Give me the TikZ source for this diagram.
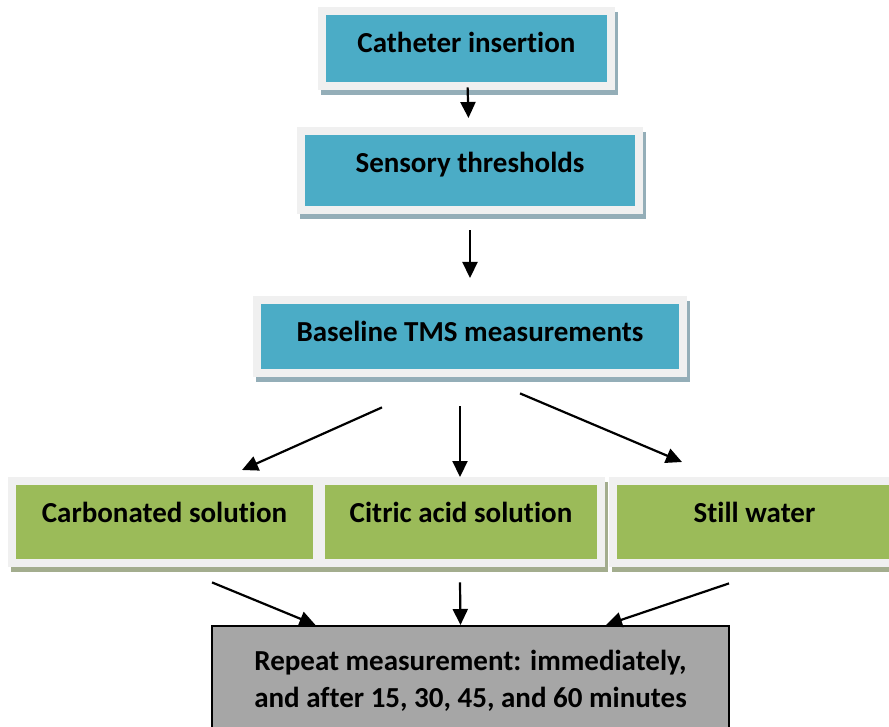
\documentclass[tikz,border=0pt]{standalone}
\usepackage{fontspec}
\setmainfont[Ligatures=CommonOff]{Carlito}
\usetikzlibrary{arrows.meta,shadows}

\definecolor{stepblue}{HTML}{4BACC6}
\definecolor{stepgreen}{HTML}{9BBB59}
\definecolor{framegray}{HTML}{F0F0F0}
\definecolor{shadowblue}{HTML}{94AEB8}
\definecolor{shadowgreen}{HTML}{A3AD8E}
\definecolor{resultgray}{HTML}{A6A6A6}

\tikzset{
    stage/.style={fill=framegray, inner sep=0pt, anchor=north, text height=45pt,
        font=\bfseries\fontsize{29}{37}\selectfont,
        path picture={\fill[#1] ([shift={(8pt,-8pt)}]path picture bounding box.north west)
            rectangle ([shift={(-8pt,8pt)}]path picture bounding box.south east);}},
    boxshadow/.style={drop shadow={shadow xshift=3pt, shadow yshift=-5pt, fill=#1, opacity=1}},
    arr/.style={-{Triangle[length=16pt,width=15pt]}, line width=2.2pt}
}

\begin{document}
\begin{tikzpicture}[x=1pt,y=-1pt]
    \useasboundingbox (0,0) rectangle (889,727);
    \clip (0,0) rectangle (889,727);

    \node[stage=stepblue, boxshadow=shadowblue, minimum width=297pt, text depth=38pt] (cath) at (466.5,7) {Catheter insertion};
    \node[stage=stepblue, boxshadow=shadowblue, minimum width=346pt, text depth=42pt] (sens) at (470,127) {Sensory thresholds};
    \node[stage=stepblue, boxshadow=shadowblue, minimum width=434pt, text depth=36pt] (baseline) at (470,296) {Baseline TMS measurements};

    \node[stage=stepgreen, boxshadow=shadowgreen, minimum width=313pt, text depth=45pt] (carb) at (164.5,477) {Carbonated solution};
    \node[stage=stepgreen, boxshadow=shadowgreen, minimum width=288pt, text depth=45pt] (citric) at (461,477) {Citric acid solution};
    \node[stage=stepgreen, boxshadow=shadowgreen, minimum width=291pt, text depth=45pt] (still) at (754.5,477) {Still water};

    \node[draw=black, line width=1.5pt, fill=resultgray, anchor=north, minimum width=517pt, inner sep=0pt,
        align=center, text height=82pt, text depth=60pt, font=\bfseries\fontsize{29}{37}\selectfont]
        (repeat) at (470.5,625) {Repeat measurement: immediately,\\and after 15, 30, 45, and 60 minutes};

    \draw[arr, shorten <=-3pt, shorten >=9pt] (cath) -- (sens);
    \draw[arr, shorten <=16pt, shorten >=18pt] (sens) -- (baseline);

    \draw[arr] ([xshift=-88pt,yshift=-30pt]baseline.south) -- ([xshift=77.5pt,yshift=7pt]carb.north);
    \draw[arr] ([xshift=-10pt,yshift=-29pt]baseline.south) -- ([xshift=-1pt]citric.north);
    \draw[arr] ([xshift=50pt,yshift=-16pt]baseline.south) -- ([xshift=-72.5pt,yshift=15pt]still.north);

    \draw[arr] ([xshift=47.5pt,yshift=-15pt]carb.south) -- ([xshift=-155pt]repeat.north);
    \draw[arr] ([xshift=-1pt,yshift=-15pt]citric.south) -- ([xshift=-10pt]repeat.north);
    \draw[arr] ([xshift=-25.5pt,yshift=-16pt]still.south) -- ([xshift=135.5pt]repeat.north);
\end{tikzpicture}
\end{document}
